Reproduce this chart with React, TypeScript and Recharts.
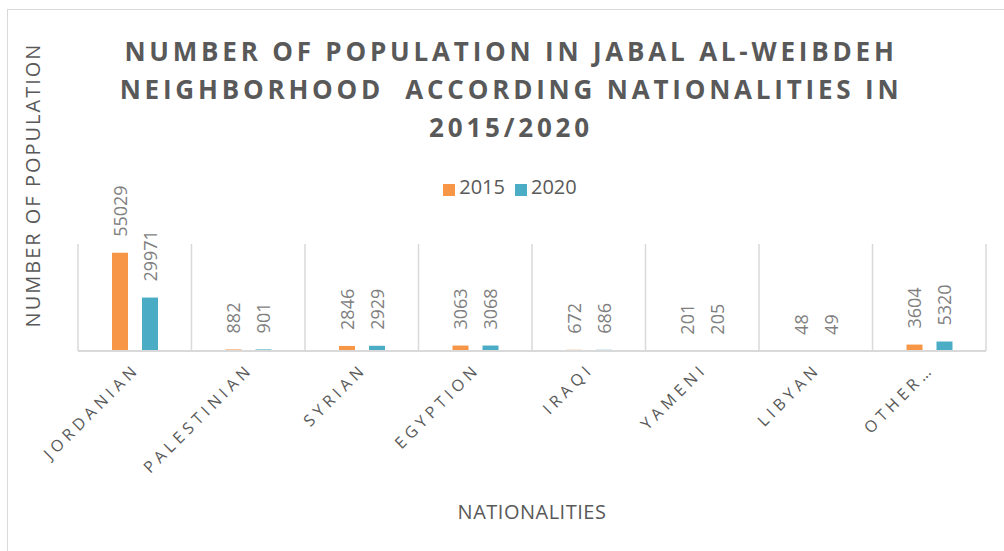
import React from 'react';
import { BarChart, Bar, XAxis, YAxis, CartesianGrid, Legend, LabelList } from 'recharts';

const categories = ['JORDANIAN', 'PALESTINIAN', 'SYRIAN', 'EGYPTION', 'IRAQI', 'YAMENI', 'LIBYAN', 'OTHER…'];
const values2015 = [55029, 882, 2846, 3063, 672, 201, 48, 3604];
const values2020 = [29971, 901, 2929, 3068, 686, 205, 49, 5320];
const seriesNames = ['2015', '2020'];
const titleLines = ['NUMBER OF POPULATION IN JABAL AL-WEIBDEH', 'NEIGHBORHOOD  ACCORDING NATIONALITIES IN', '2015/2020'];
const yTitle = 'NUMBER OF POPULATION';
const xTitle = 'NATIONALITIES';

const data = categories.map((c, i) => ({ name: c, '2015': values2015[i], '2020': values2020[i] }));

const FONT = '"Open Sans", sans-serif';
const ORANGE = '#F79646';
const TEAL = '#4BACC6';

const renderLabel = (props: any) => {
  const { x, y, width, value } = props;
  const cx = Number(x) + Number(width) / 2;
  const cy = Number(y) - 16;
  return (
    <text
      x={cx}
      y={cy}
      transform={`rotate(-90 ${cx} ${cy})`}
      textAnchor="start"
      dominantBaseline="central"
      fill="#7f7f7f"
      fontSize={18}
      fontFamily={FONT}
    >
      {value}
    </text>
  );
};

const renderTick = (props: any) => {
  const { x, y, payload } = props;
  const tx = Number(x) + 6;
  const ty = Number(y) + 11;
  return (
    <text
      x={tx}
      y={ty}
      transform={`rotate(-45 ${tx} ${ty})`}
      textAnchor="end"
      fill="#595959"
      fontSize={16}
      fontFamily={FONT}
      letterSpacing={4.5}
    >
      {payload.value}
    </text>
  );
};

export default function App() {
  return (
    <div style={{ position: 'absolute', left: 0, top: 0, width: 1004, height: 551, overflow: 'hidden', background: '#fff' }}>
      <div style={{ position: 'absolute', left: 7, top: 9, width: 1010, height: 560, borderLeft: '1px solid #d9d9d9', borderTop: '1px solid #d9d9d9' }} />
      <div style={{ position: 'absolute', left: 0, top: 0 }}>
        <BarChart width={1004} height={551} data={data} margin={{ top: 217, right: 18, bottom: 170, left: 78 }} barSize={16} barGap={14}>
          <CartesianGrid
            horizontal={false}
            stroke="#d9d9d9"
            strokeWidth={1.5}
            verticalCoordinatesGenerator={({ offset }: any) =>
              categories.map((_, i) => offset.left + (i * offset.width) / categories.length).concat([offset.left + offset.width])
            }
          />
          <XAxis
            dataKey="name"
            height={30}
            interval={0}
            tickLine={false}
            axisLine={{ stroke: '#d9d9d9', strokeWidth: 2 }}
            tick={renderTick}
          />
          <YAxis hide domain={[0, 60000]} />
          <Legend
            verticalAlign="top"
            align="center"
            iconType="square"
            iconSize={12}
            wrapperStyle={{ top: 173, left: 13, width: 1004 }}
            formatter={(v: any) => <span style={{ color: '#595959', fontSize: 20, fontFamily: FONT }}>{v}</span>}
          />
          <Bar dataKey={seriesNames[0]} fill={ORANGE} isAnimationActive={false}>
            <LabelList dataKey={seriesNames[0]} content={renderLabel} />
          </Bar>
          <Bar dataKey={seriesNames[1]} fill={TEAL} isAnimationActive={false}>
            <LabelList dataKey={seriesNames[1]} content={renderLabel} />
          </Bar>
        </BarChart>
      </div>
      <div
        style={{
          position: 'absolute',
          left: 11,
          top: 32,
          width: 1000,
          textAlign: 'center',
          fontFamily: FONT,
          fontWeight: 700,
          fontSize: 26,
          letterSpacing: 3.8,
          lineHeight: '38px',
          color: '#595959',
          whiteSpace: 'pre',
        }}
      >
        {titleLines.map((l, i) => (
          <div key={i}>{l}</div>
        ))}
      </div>
      <div
        style={{
          position: 'absolute',
          left: 33 - 160,
          top: 185 - 14,
          width: 320,
          height: 28,
          lineHeight: '28px',
          textAlign: 'center',
          transform: 'rotate(-90deg)',
          fontFamily: FONT,
          fontSize: 20,
          letterSpacing: 2,
          color: '#595959',
          whiteSpace: 'nowrap',
        }}
      >
        {yTitle}
      </div>
      <div
        style={{
          position: 'absolute',
          left: 532 - 150,
          top: 498,
          width: 300,
          textAlign: 'center',
          fontFamily: FONT,
          fontSize: 20,
          letterSpacing: 0.5,
          color: '#595959',
          lineHeight: '28px',
        }}
      >
        {xTitle}
      </div>
    </div>
  );
}
